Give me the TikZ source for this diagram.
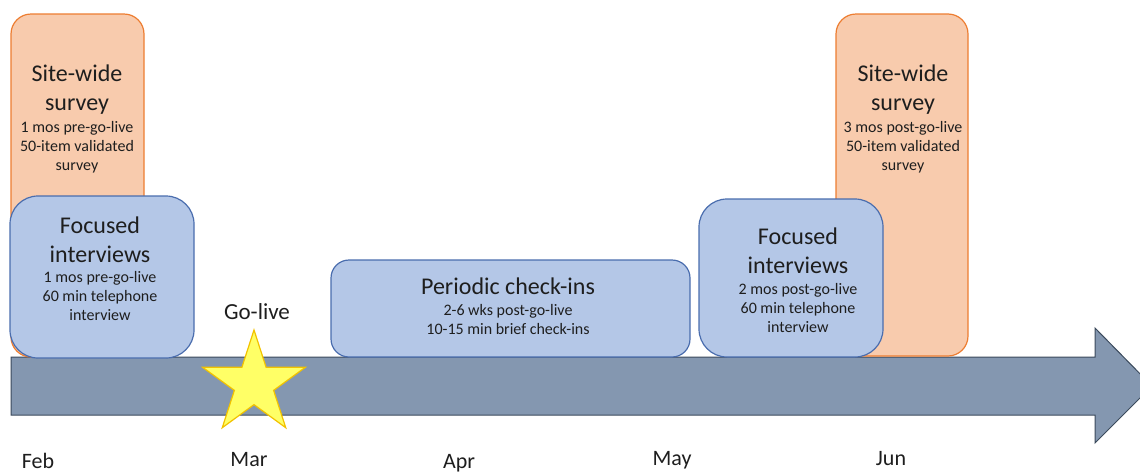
\documentclass[tikz,border=0pt]{standalone}
\usepackage{fontspec}
\setmainfont{Carlito}
\usetikzlibrary{shapes.geometric}
\definecolor{surveyfill}{HTML}{F8CBAD}
\definecolor{surveyline}{HTML}{ED7D31}
\definecolor{interfill}{HTML}{B4C7E7}
\definecolor{interline}{HTML}{4A6DAE}
\definecolor{arrowfill}{HTML}{8497B0}
\definecolor{arrowline}{HTML}{3B4A5C}
\definecolor{starfill}{HTML}{FFFF66}
\definecolor{starline}{HTML}{F2C200}
\definecolor{textgray}{HTML}{1E1E1E}
\begin{document}
\begin{tikzpicture}[x=1pt,y=-1pt,
  survey/.style={fill=surveyfill,draw=surveyline,line width=1.2pt,rounded corners=20pt},
  interview/.style={fill=interfill,draw=interline,line width=1.2pt,rounded corners=28pt},
  title/.style={align=center,text=textgray,font=\fontsize{24}{29}\selectfont,inner sep=0pt},
  detail/.style={align=center,text=textgray,font=\fontsize{16}{19}\selectfont,inner sep=0pt},
  month/.style={text=textgray,font=\fontsize{22}{26}\selectfont,inner sep=0pt}]
\clip (0,0) rectangle (1140,472);

% Timeline arrow
\draw[fill=arrowfill,draw=arrowline,line width=1pt] (11,357) -- (1095,357) -- (1095,328)
  -- (1152,386) -- (1095,443) -- (1095,415) -- (11,415) -- cycle;

% Pre-go-live
\draw[survey] (11,14) rectangle (144,357);
\node[title] (preSurveyTitle) at (77,90) {Site-wide\\survey};
\node[detail] (preSurveyText) at (77,147) {1 mos pre-go-live\\50-item validated\\survey};

\draw[interview] (10,196) rectangle (194,358);
\node[title] (preInterviewTitle) at (100,240) {Focused\\interviews};
\node[detail] (preInterviewText) at (100,296) {1 mos pre-go-live\\60 min telephone\\interview};

% Go-live
\node[month,font=\fontsize{23}{27}\selectfont] (goliveLabel) at (257,312) {Go-live};
\node[star,star points=5,star point ratio=2.618,minimum size=108pt,inner sep=0pt,
  fill=starfill,draw=starline,line width=1.2pt] (golive) at (254,384) {};

% Check-ins
\draw[interview,rounded corners=18pt] (331,260) rectangle (690,357);
\node[title] (checkinTitle) at (508,286) {Periodic check-ins};
\node[detail] (checkinText) at (508,319.5) {2-6 wks post-go-live\\10-15 min brief check-ins};

% Post-go-live
\draw[survey] (836,14) rectangle (968,356);
\node[title] (postSurveyTitle) at (903,90) {Site-wide\\survey};
\node[detail] (postSurveyText) at (903,147) {3 mos post-go-live\\50-item validated\\survey};

\draw[interview] (699,199) rectangle (883,357);
\node[title] (postInterviewTitle) at (798,251) {Focused\\interviews};
\node[detail] (postInterviewText) at (798,308) {2 mos post-go-live\\60 min telephone\\interview};

% Months
\foreach \m/\x/\y in {Feb/38/461,Mar/249/460,Apr/459/463,May/672/460,Jun/891/459}
  \node[month] (month\m) at (\x,\y) {\m};
\end{tikzpicture}
\end{document}
